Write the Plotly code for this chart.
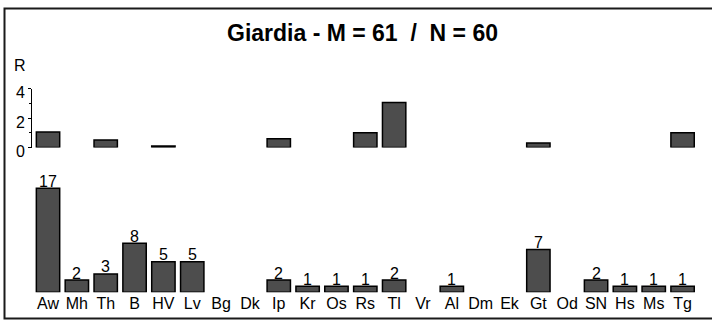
import plotly.graph_objects as go

categories = ["Aw", "Mh", "Th", "B", "HV", "Lv", "Bg", "Dk", "Ip", "Kr", "Os", "Rs",
              "Tl", "Vr", "Al", "Dm", "Ek", "Gt", "Od", "SN", "Hs", "Ms", "Tg"]
counts = [17, 2, 3, 8, 5, 5, None, None, 2, 1, 1, 1,
          2, None, 1, None, None, 7, None, 2, 1, 1, 1]
r_values = [1.05, None, 0.5, None, 0.1, None, None, None, 0.6, None, None, 1.0,
            3.05, None, None, None, None, 0.3, None, None, None, None, 1.0]
r_ticks = [0, 2, 4]
r_minor = [1, 3]
title_text = "Giardia - M = 61  /  N = 60"

W, H = 712, 320
FONT = "Liberation Sans, Arial, sans-serif"
FILL = "#4d4d4d"

def px_x(p):
    return p / W

def px_y(p):
    return 1 - p / H

xdom = [px_x(33.6), px_x(697)]

fig = go.Figure()

fig.add_trace(go.Bar(
    x=categories, y=counts, xaxis="x", yaxis="y",
    marker=dict(color=FILL, line=dict(color="#000000", width=1.5)),
    hoverinfo="x+y", showlegend=False,
))

fig.add_trace(go.Bar(
    x=categories, y=r_values, xaxis="x2", yaxis="y2",
    marker=dict(color=FILL, line=dict(color="#000000", width=1.5)),
    hoverinfo="x+y", showlegend=False,
))

count_labels = [
    dict(text=str(c), x=cat, y=c, xref="x", yref="y", xanchor="center",
         yanchor="middle", yshift=7, showarrow=False,
         font=dict(family=FONT, size=16, color="#000000"))
    for cat, c in zip(categories, counts) if c
]

fig.update_layout(
    width=W, height=H, autosize=False,
    margin=dict(l=0, r=0, t=0, b=0, pad=0),
    paper_bgcolor="white", plot_bgcolor="white",
    bargap=0.19,
    font=dict(family=FONT, size=16, color="#000000"),
    xaxis=dict(domain=xdom, range=[-0.5, len(categories) - 0.5],
               categoryorder="array", categoryarray=categories,
               showgrid=False, zeroline=False, showline=False, ticks="",
               automargin=False,
               tickfont=dict(family=FONT, size=16, color="#000000"),
               anchor="y"),
    yaxis=dict(domain=[px_y(292.3), px_y(169.9)], range=[0, 20],
               visible=False, automargin=False, anchor="x"),
    xaxis2=dict(domain=xdom, range=[-0.5, len(categories) - 0.5],
                categoryorder="array", categoryarray=categories,
                showgrid=False, zeroline=False, showline=False, ticks="",
                automargin=False, showticklabels=False, anchor="y2"),
    yaxis2=dict(domain=[px_y(147.5), px_y(88.5)], range=[0, 4],
                anchor="free", position=px_x(31), automargin=False,
                showgrid=False, zeroline=False, showline=True,
                linecolor="#000000", linewidth=1,
                tickvals=r_ticks, ticks="outside", ticklen=3,
                tickcolor="#000000", tickwidth=1, ticklabelshift=4,
                minor=dict(tickvals=r_minor, ticks="outside", ticklen=2,
                           tickcolor="#000000", tickwidth=1),
                tickfont=dict(family=FONT, size=16, color="#000000")),
    shapes=[dict(type="rect", xref="paper", yref="paper",
                 x0=px_x(4.5), x1=1.01, y0=px_y(318.5), y1=px_y(8.5),
                 line=dict(color="#1a1a1a", width=2), fillcolor="rgba(0,0,0,0)")],
    annotations=[
        dict(text="<b>" + title_text + "</b>", xref="paper", yref="paper",
             x=px_x(362), y=px_y(33), xanchor="center", yanchor="middle",
             showarrow=False, font=dict(family=FONT, size=23, color="#000000")),
        dict(text="R", xref="paper", yref="paper",
             x=px_x(20), y=px_y(65), xanchor="center", yanchor="middle",
             showarrow=False, font=dict(family=FONT, size=16, color="#000000")),
    ] + count_labels,
)

fig.write_html(
    "out.html",
    config={"displayModeBar": False},
    post_script="document.body.style.margin='0';document.documentElement.style.overflow='hidden';",
)
